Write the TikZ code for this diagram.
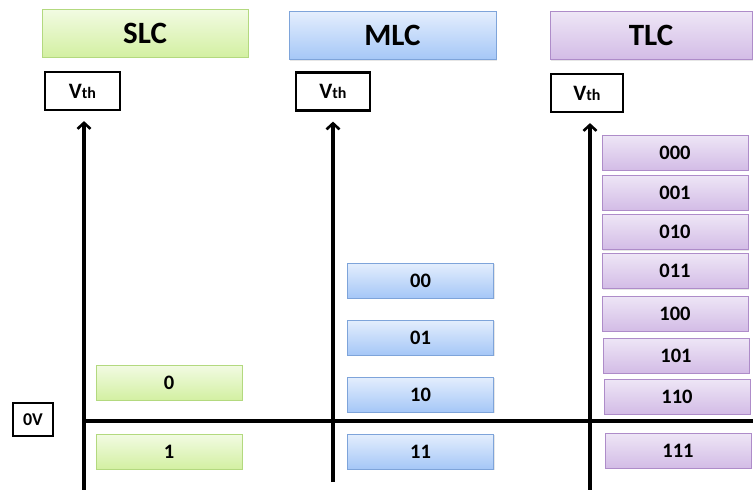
\documentclass[tikz,border=0pt]{standalone}
\usepackage{fontspec}
\setmainfont{Carlito}
\usetikzlibrary{arrows.meta,positioning,shadows}

\definecolor{slctop}{HTML}{F2FBE3}
\definecolor{slcbot}{HTML}{D3F0A2}
\definecolor{slcline}{HTML}{B3D97F}
\definecolor{mlctop}{HTML}{E4EEFD}
\definecolor{mlcbot}{HTML}{A5C7F7}
\definecolor{mlcline}{HTML}{7EA4DA}
\definecolor{tlctop}{HTML}{EEE6F6}
\definecolor{tlcbot}{HTML}{D3BCE6}
\definecolor{tlcline}{HTML}{AE8CC9}

\tikzset{
  box/.style={inner sep=0pt, font=\bfseries, drop shadow={opacity=0.2, shadow xshift=1pt, shadow yshift=-1pt}},
  title/.style={box, minimum height=48pt, font=\bfseries\fontsize{31}{31}\selectfont},
  cell/.style={box, minimum width=146pt, minimum height=35pt, font=\bfseries\fontsize{20.5}{20.5}\selectfont},
  slc/.style={top color=slctop, bottom color=slcbot, draw=slcline},
  mlc/.style={top color=mlctop, bottom color=mlcbot, draw=mlcline},
  tlc/.style={top color=tlctop, bottom color=tlcbot, draw=tlcline},
  vth/.style={draw, line width=2.2pt, fill=white, inner sep=0pt, minimum height=38pt, font=\bfseries\fontsize{22}{22}\selectfont},
  axis/.style={line width=3.6pt},
  vaxis/.style={axis, -{Straight Barb[length=6pt,width=13pt,line width=2.6pt]}, shorten >=10pt},
}
\newcommand{\vthlabel}{V{\fontsize{16}{16}\selectfont th}}

\begin{document}
\begin{tikzpicture}[x=1pt, y=-1pt]
  \useasboundingbox (0,0) rectangle (753,490);

  % column headings
  \node[title, slc, minimum width=206pt] (hslc) at (145,33) {SLC};
  \node[title, mlc, minimum width=207pt] (hmlc) at (392.5,35.5) {MLC};
  \node[title, tlc, minimum width=202pt] (htlc) at (651,35.5) {TLC};

  % Vth labels
  \node[vth, minimum width=75pt] (vslc) at (82.5,91) {\vthlabel};
  \node[vth, minimum width=74pt] (vmlc) at (333,91.5) {\vthlabel};
  \node[vth, minimum width=72pt] (vtlc) at (587,93) {\vthlabel};
  \node[draw, line width=1.8pt, inner sep=0pt, minimum width=40pt, minimum height=33pt, font=\bfseries\fontsize{18}{18}\selectfont] (zero) at (33,419.5) {0V};

  % axes
  \coordinate (aslc) at (84,490);
  \coordinate (amlc) at (333,482);
  \coordinate (atlc) at (590,490);
  \coordinate (hl) at (82,421);
  \coordinate (hr) at (753,421);
  \draw[axis] (hl) -- (hr);
  \draw[vaxis] (aslc) -- (aslc |- vslc.south);
  \draw[vaxis] (amlc) -- (amlc |- vmlc.south);
  \draw[vaxis] (atlc) -- (atlc |- vtlc.south);

  % SLC states
  \node[cell, slc] (s0) at (169,382.5) {0};
  \node[cell, slc] (s1) at (169,451.5) {1};

  % MLC states
  \node[cell, mlc] (m00) at (420.5,280.5) {00};
  \node[cell, mlc] (m01) at (420.5,337.5) {01};
  \node[cell, mlc] (m10) at (420.5,394.5) {10};
  \node[cell, mlc] (m11) at (420.5,451.5) {11};

  % TLC states
  \node[cell, tlc] (t000) at (675,152.5) {000};
  \node[cell, tlc] (t001) at (675,192.5) {001};
  \node[cell, tlc] (t010) at (675,232) {010};
  \node[cell, tlc] (t011) at (675,271) {011};
  \node[cell, tlc] (t100) at (675,313.5) {100};
  \node[cell, tlc] (t101) at (676,355.5) {101};
  \node[cell, tlc] (t110) at (677,396.5) {110};
  \node[cell, tlc] (t111) at (678,450.5) {111};
\end{tikzpicture}
\end{document}
